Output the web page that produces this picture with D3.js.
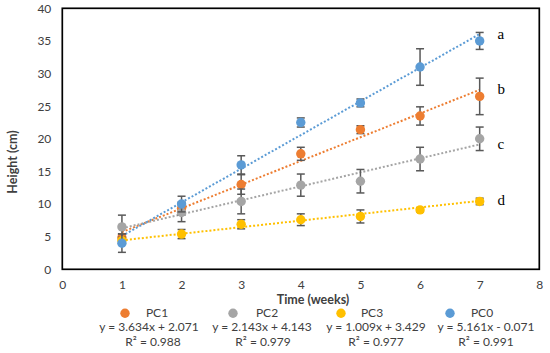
<!DOCTYPE html>
<html>
<head>
<meta charset="utf-8">
<script src="https://cdn.jsdelivr.net/npm/d3@7"></script>
<style>
  body { margin: 0; background: #fff; }
  svg text { font-family: Lato, "Open Sans", sans-serif; fill: #404040; }
</style>
</head>
<body>
<svg class="chart"></svg>
<script>
var weeks = [1, 2, 3, 4, 5, 6, 7];
var seriesNames = ["PC1", "PC2", "PC3", "PC0"];
var seriesColors = ["#ED7D31", "#A5A5A5", "#FFC000", "#5B9BD5"];

var pc1 = [4.85, 9.3, 13, 17.7, 21.4, 23.5, 26.5];
var pc2 = [6.5, 8.7, 10.4, 12.9, 13.5, 16.9, 20];
var pc3 = [4.4, 5.4, 6.9, 7.6, 8.1, 9.1, 10.4];
var pc0 = [4, 10, 16, 22.5, 25.5, 31, 35];

var err1 = [0.6, 1.0, 1.5, 1.0, 0.6, 1.4, 2.8];
var err2 = [1.8, 1.4, 1.9, 1.7, 1.8, 1.8, 1.8];
var err3 = [0.5, 0.7, 0.7, 0.9, 1.0, 0.3, 0.5];
var err0 = [1.4, 1.2, 1.4, 0.7, 0.6, 2.8, 1.3];

var slopes = [3.634, 2.143, 1.009, 5.161];
var intercepts = [2.071, 4.143, 3.429, -0.071];
var rSquared = [0.988, 0.979, 0.977, 0.991];
var groupLetters = ["b", "c", "d", "a"];

var xTicks = [0, 1, 2, 3, 4, 5, 6, 7, 8];
var yTicks = [0, 5, 10, 15, 20, 25, 30, 35, 40];

var width = 550;
var height = 353;
var margin = { top: 8.3, right: 10.7, bottom: 83.7, left: 62.3 };

var chart = d3.select(".chart")
    .attr("width", width)
    .attr("height", height);

var x = d3.scaleLinear().domain([0, 8]).range([margin.left, width - margin.right]);
var y = d3.scaleLinear().domain([0, 40]).range([height - margin.bottom, margin.top]);

// axes, labels only
var xAxis = chart.append("g")
    .attr("transform", "translate(0," + (height - margin.bottom) + ")")
    .call(d3.axisBottom(x).tickValues(xTicks).tickSize(0).tickPadding(11));
var yAxis = chart.append("g")
    .attr("transform", "translate(" + margin.left + ",0)")
    .call(d3.axisLeft(y).tickValues(yTicks).tickSize(0).tickPadding(11));
[xAxis, yAxis].forEach(function(a) {
    a.select(".domain").remove();
    a.selectAll("text").style("font-size", "12px").attr("font-family", null);
});

chart.append("text")
    .attr("x", 313).attr("y", 304)
    .attr("text-anchor", "middle")
    .style("font-size", "12.5px").style("font-weight", "bold")
    .text("Time (weeks)");

chart.append("text")
    .attr("transform", "translate(17,162) rotate(-90)")
    .attr("text-anchor", "middle")
    .style("font-size", "12.5px").style("font-weight", "bold")
    .text("Height (cm)");

var allValues = [pc1, pc2, pc3, pc0];
var allErrors = [err1, err2, err3, err0];

var series = seriesNames.map(function(name, i) {
    return {
        name: name,
        color: seriesColors[i],
        slope: slopes[i],
        intercept: intercepts[i],
        r2: rSquared[i],
        letter: groupLetters[i],
        points: weeks.map(function(w, j) {
            return { x: w, y: allValues[i][j], e: allErrors[i][j] };
        })
    };
});

// trendlines
var trend = chart.append("g").attr("class", "trend");
series.forEach(function(s) {
    trend.append("line")
        .attr("x1", x(1)).attr("y1", y(s.slope * 1 + s.intercept))
        .attr("x2", x(7)).attr("y2", y(s.slope * 7 + s.intercept))
        .attr("stroke", s.color)
        .attr("stroke-width", 2)
        .attr("stroke-dasharray", "2,2");
});

// error bars and markers, per series
series.forEach(function(s) {
    var g = chart.append("g").attr("class", "series");
    var eb = g.selectAll(".err")
        .data(s.points)
        .enter().append("g")
        .attr("stroke", "#595959")
        .attr("stroke-width", 1.5);
    eb.append("line")
        .attr("x1", function(d) { return x(d.x); })
        .attr("x2", function(d) { return x(d.x); })
        .attr("y1", function(d) { return y(d.y - d.e); })
        .attr("y2", function(d) { return y(d.y + d.e); });
    [-1, 1].forEach(function(sign) {
        eb.append("line")
            .attr("x1", function(d) { return x(d.x) - 4; })
            .attr("x2", function(d) { return x(d.x) + 4; })
            .attr("y1", function(d) { return y(d.y + sign * d.e); })
            .attr("y2", function(d) { return y(d.y + sign * d.e); });
    });
    g.selectAll("circle")
        .data(s.points)
        .enter().append("circle")
        .attr("cx", function(d) { return x(d.x); })
        .attr("cy", function(d) { return y(d.y); })
        .attr("r", 4.7)
        .attr("fill", s.color);
});

// plot border
chart.append("rect")
    .attr("x", x(0)).attr("y", y(40))
    .attr("width", x(8) - x(0)).attr("height", y(0) - y(40))
    .attr("fill", "none")
    .attr("stroke", "#000")
    .attr("stroke-width", 1.7);

// group letters
chart.append("g").selectAll("text")
    .data(series)
    .enter().append("text")
    .attr("x", x(7.3))
    .attr("y", function(d) { return y(d.slope * 7 + d.intercept); })
    .attr("dy", "0.3em")
    .style("font-family", "'Liberation Serif', 'DejaVu Serif', serif")
    .style("font-size", "15px")
    .style("fill", "#000")
    .text(function(d) { return d.letter; });

// legend
var markerX = [125, 233, 341, 450];
var labelX = [157, 267, 372, 482];
var eqX = [149, 262, 376, 486];
var r2X = [153, 263, 376, 486];

function fmt(v) { return v.toFixed(3); }

var legend = chart.append("g").attr("class", "legend");
series.forEach(function(s, i) {
    legend.append("circle")
        .attr("cx", markerX[i]).attr("cy", 313.3)
        .attr("r", 4.7).attr("fill", s.color);
    legend.append("text")
        .attr("x", labelX[i]).attr("y", 317)
        .attr("text-anchor", "middle")
        .style("font-size", "12px")
        .text(s.name);
    legend.append("text")
        .attr("x", eqX[i]).attr("y", 330.5)
        .attr("text-anchor", "middle")
        .style("font-size", "12px")
        .text("y = " + fmt(s.slope) + "x " + (s.intercept < 0 ? "- " : "+ ") + fmt(Math.abs(s.intercept)));
    legend.append("text")
        .attr("x", r2X[i]).attr("y", 345.5)
        .attr("text-anchor", "middle")
        .style("font-size", "12px")
        .text("R² = " + fmt(s.r2));
});
</script>
</body>
</html>
